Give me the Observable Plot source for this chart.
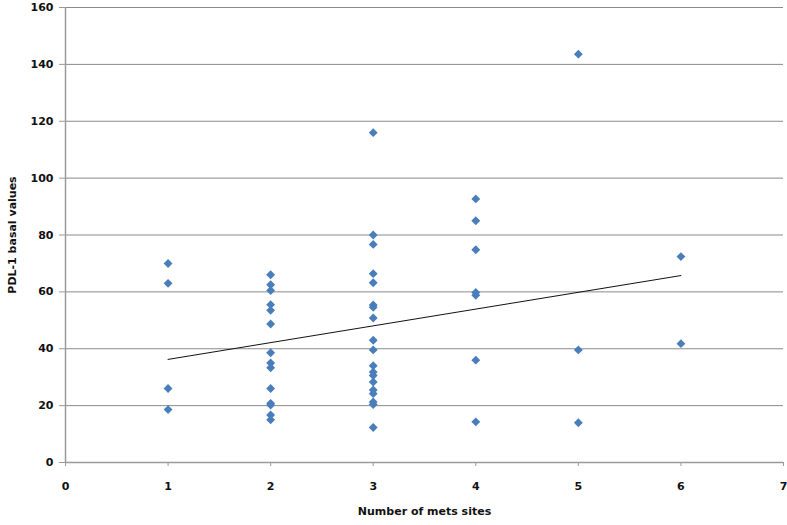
<!DOCTYPE html>
<html>
<head>
<meta charset="utf-8">
<script src="https://cdn.jsdelivr.net/npm/d3@7"></script>
<script src="https://cdn.jsdelivr.net/npm/@observablehq/plot@0.6"></script>
<style>
  html, body { margin: 0; padding: 0; background: #fff; }
</style>
</head>
<body>
<div id="chart"></div>
<script>
// Data
const metsSites = [
  1, 1, 1, 1,
  2, 2, 2, 2, 2, 2, 2, 2, 2, 2, 2, 2, 2, 2,
  3, 3, 3, 3, 3, 3, 3, 3, 3, 3, 3, 3, 3, 3, 3, 3, 3, 3, 3,
  4, 4, 4, 4, 4, 4, 4,
  5, 5, 5,
  6, 6
];
const pdl1Values = [
  70, 63, 26, 18.6,
  66, 62.5, 60.5, 55.5, 53.5, 48.7, 38.6, 35, 33.3, 26, 20.8, 20.2, 16.7, 15,
  116, 80, 76.7, 66.4, 63.2, 55.4, 54.6, 50.8, 43, 39.6, 34, 31.8, 30.6, 28.3, 25.5, 24.2, 21.3, 20.4, 12.3,
  92.7, 85, 74.8, 59.8, 58.8, 36, 14.3,
  143.6, 39.6, 14,
  72.4, 41.8
];
const xTicks = [0, 1, 2, 3, 4, 5, 6, 7];
const yTicks = [0, 20, 40, 60, 80, 100, 120, 140, 160];
const xLabel = "Number of mets sites";
const yLabel = "PDL-1 basal values";

const data = metsSites.map((x, i) => ({x, y: pdl1Values[i]}));

const chart = Plot.plot({
  width: 787,
  height: 525,
  marginLeft: 65,
  marginRight: 4,
  marginTop: 7,
  marginBottom: 63,
  style: {fontFamily: "DejaVu Sans", fontSize: "11px", fontWeight: "bold", color: "#111", background: "#fff"},
  x: {domain: [0, 7]},
  y: {domain: [0, 160]},
  marks: [
    Plot.ruleY(yTicks.filter(d => d > 0), {stroke: "#8a8a8a", strokeWidth: 1}),
    Plot.ruleX([0], {stroke: "#9a9a9a", strokeWidth: 1.5}),
    Plot.ruleY([0], {stroke: "#9a9a9a", strokeWidth: 1.5}),
    Plot.axisY({ticks: yTicks, tickSize: 6, tickPadding: 6, tickFormat: "d", label: null, stroke: "#9a9a9a", fill: "#111", fontSize: 11}),
    Plot.axisX({ticks: xTicks, tickSize: 4, tickPadding: 16, tickFormat: "d", label: null, stroke: "#9a9a9a", fill: "#111", fontSize: 11}),
    Plot.linearRegressionY(data, {x: "x", y: "y", stroke: "#111", strokeWidth: 1, ci: 0}),
    Plot.dot(data, {x: "x", y: "y", symbol: "diamond2", r: 4, fill: "#4a7ebb", stroke: "none"}),
    Plot.text([yLabel], {frameAnchor: "left", textAnchor: "middle", rotate: -90, dx: -53, fontSize: 11, fontWeight: "bold", fill: "#111"}),
    Plot.text([xLabel], {frameAnchor: "bottom", textAnchor: "middle", dy: 52, fontSize: 11, fontWeight: "bold", fill: "#111"})
  ]
});
document.getElementById("chart").appendChild(chart);
</script>
</body>
</html>
